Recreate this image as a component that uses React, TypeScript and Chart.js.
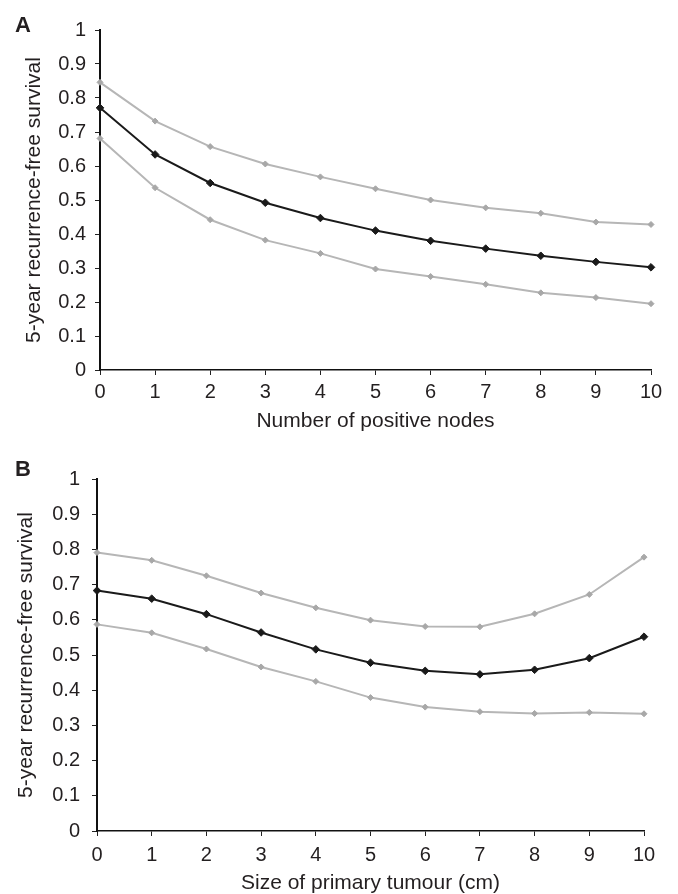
import React, { useEffect, useRef } from 'react';
import { Chart, registerables } from 'chart.js';

Chart.register(...registerables);

// ---- data ----
const X_VALUES = [0, 1, 2, 3, 4, 5, 6, 7, 8, 9, 10];
const Y_TICKS = [0, 0.1, 0.2, 0.3, 0.4, 0.5, 0.6, 0.7, 0.8, 0.9, 1];

const NODES_MEAN = [0.771, 0.634, 0.55, 0.492, 0.447, 0.41, 0.38, 0.357, 0.336, 0.318, 0.302];
const NODES_UPPER = [0.846, 0.732, 0.657, 0.606, 0.568, 0.533, 0.5, 0.477, 0.461, 0.435, 0.428];
const NODES_LOWER = [0.681, 0.536, 0.442, 0.382, 0.343, 0.297, 0.275, 0.252, 0.227, 0.213, 0.195];

const SIZE_MEAN = [0.683, 0.66, 0.616, 0.564, 0.516, 0.478, 0.455, 0.445, 0.458, 0.491, 0.552];
const SIZE_UPPER = [0.791, 0.769, 0.725, 0.676, 0.634, 0.599, 0.581, 0.58, 0.617, 0.672, 0.778];
const SIZE_LOWER = [0.587, 0.563, 0.517, 0.466, 0.425, 0.379, 0.352, 0.339, 0.334, 0.337, 0.333];

const Y_TITLE = '5-year recurrence-free survival';
const X_TITLE_A = 'Number of positive nodes';
const X_TITLE_B = 'Size of primary tumour (cm)';

const FONT = '"Liberation Sans", Arial, Helvetica, sans-serif';
const TEXT = '#231f20';
const BLACK = '#1a1a1a';
const GREY_LINE = '#b6b6b6';
const GREY_PT = '#a8a8a8';

type Layout = {
  padTop: number;
  padRight: number;
  yWidth: number;
  xHeight: number;
  yTickPad: number;
  yTitlePad: number;
  xTickPad: number;
  xTitlePad: number;
};

function makeConfig(mean: number[], upper: number[], lower: number[], xTitle: string, L: Layout): any {
  const pts = (arr: number[]) => X_VALUES.map((x, i) => ({ x, y: arr[i] }));
  const grey = (arr: number[]) => ({
    data: pts(arr),
    borderColor: GREY_LINE,
    borderWidth: 2,
    pointStyle: 'rectRot',
    pointRadius: 3,
    pointBackgroundColor: GREY_PT,
    pointBorderColor: GREY_PT,
    pointBorderWidth: 1,
    tension: 0,
    clip: false,
  });
  return {
    type: 'line',
    data: {
      datasets: [
        {
          data: pts(mean),
          borderColor: BLACK,
          borderWidth: 2,
          pointStyle: 'rectRot',
          pointRadius: 3.8,
          pointBackgroundColor: BLACK,
          pointBorderColor: BLACK,
          pointBorderWidth: 1,
          tension: 0,
          clip: false,
        },
        grey(upper),
        grey(lower),
      ],
    },
    options: {
      responsive: false,
      animation: false,
      devicePixelRatio: 1,
      layout: { padding: { top: L.padTop, right: L.padRight, left: 0, bottom: 0 } },
      plugins: { legend: { display: false }, tooltip: { enabled: false }, title: { display: false } },
      scales: {
        x: {
          type: 'linear',
          min: 0,
          max: 10,
          afterBuildTicks: (s: any) => {
            s.ticks = X_VALUES.map((v) => ({ value: v }));
          },
          afterFit: (s: any) => {
            s.height = L.xHeight;
          },
          ticks: {
            font: { family: FONT, size: 20 },
            color: TEXT,
            padding: L.xTickPad,
            maxRotation: 0,
            autoSkip: false,
            callback: (v: number) => String(v),
          },
          grid: { drawOnChartArea: false, drawTicks: true, tickLength: 5, color: '#222', lineWidth: 1 },
          border: { display: true, color: '#111', width: 1.5 },
          title: {
            display: true,
            text: xTitle,
            color: TEXT,
            font: { family: FONT, size: 21, lineHeight: 1 },
            padding: { top: 0, bottom: L.xTitlePad },
          },
        },
        y: {
          type: 'linear',
          min: 0,
          max: 1,
          afterBuildTicks: (s: any) => {
            s.ticks = Y_TICKS.map((v) => ({ value: v }));
          },
          afterFit: (s: any) => {
            s.width = L.yWidth;
          },
          ticks: {
            font: { family: FONT, size: 20 },
            color: TEXT,
            padding: L.yTickPad,
            autoSkip: false,
            callback: (v: number) => String(Math.round(v * 10) / 10),
          },
          grid: { drawOnChartArea: false, drawTicks: true, tickLength: 5, color: '#222', lineWidth: 1 },
          border: { display: true, color: '#111', width: 2 },
          title: {
            display: true,
            text: Y_TITLE,
            color: TEXT,
            font: { family: FONT, size: 21, lineHeight: 1 },
            padding: { top: L.yTitlePad, bottom: 0 },
          },
        },
      },
    },
  };
}

const LAYOUT_A: Layout = {
  padTop: 30,
  padRight: 27,
  yWidth: 100,
  xHeight: 70,
  yTickPad: 9,
  yTitlePad: 24,
  xTickPad: 5,
  xTitlePad: 8,
};

const LAYOUT_B: Layout = {
  padTop: 39,
  padRight: 34,
  yWidth: 97,
  xHeight: 63,
  yTickPad: 12,
  yTitlePad: 16,
  xTickPad: 7,
  xTitlePad: 0,
};

export default function App() {
  const refA = useRef<HTMLCanvasElement | null>(null);
  const refB = useRef<HTMLCanvasElement | null>(null);

  useEffect(() => {
    const a = new Chart(refA.current as HTMLCanvasElement, makeConfig(NODES_MEAN, NODES_UPPER, NODES_LOWER, X_TITLE_A, LAYOUT_A));
    const b = new Chart(refB.current as HTMLCanvasElement, makeConfig(SIZE_MEAN, SIZE_UPPER, SIZE_LOWER, X_TITLE_B, LAYOUT_B));
    return () => {
      a.destroy();
      b.destroy();
    };
  }, []);

  const letter: React.CSSProperties = {
    position: 'absolute',
    left: 15,
    font: `bold 22px ${FONT}`,
    lineHeight: '22px',
    color: TEXT,
  };

  return (
    <div style={{ position: 'absolute', left: 0, top: 0, width: 678, height: 894, background: '#fff', overflow: 'hidden' }}>
      <canvas ref={refA} width={678} height={440} style={{ position: 'absolute', left: 0, top: 0, width: 678, height: 440 }} />
      <canvas ref={refB} width={678} height={454} style={{ position: 'absolute', left: 0, top: 440, width: 678, height: 454 }} />
      <div style={{ ...letter, top: 14 }}>A</div>
      <div style={{ ...letter, top: 458 }}>B</div>
    </div>
  );
}
